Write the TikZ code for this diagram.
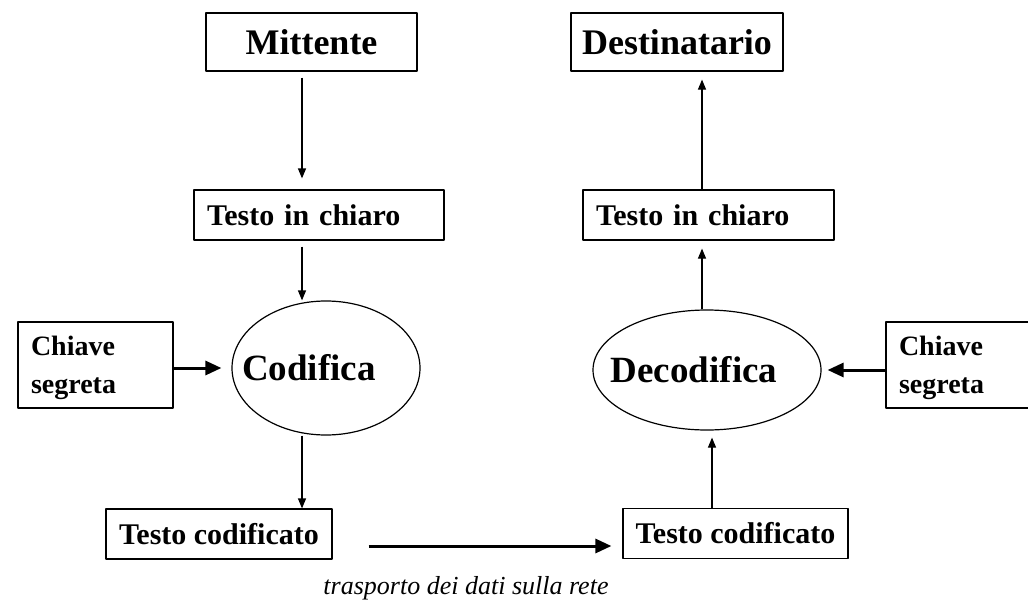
\documentclass[tikz,border=0pt]{standalone}
\usepackage{fontspec}
\setmainfont{Liberation Serif}
\usetikzlibrary{arrows.meta,shapes.geometric}
\begin{document}
\begin{tikzpicture}[x=1pt,y=-1pt,line join=round,>={Triangle[length=10pt,width=8pt]},
	box/.style={draw,line width=1.2pt,inner sep=0pt,minimum height=50pt,font=\bfseries\fontsize{30}{32}\selectfont},
	title/.style={box,minimum height=58pt,font=\bfseries\fontsize{36}{38}\selectfont},
	keybox/.style={box,align=left,inner xsep=13pt,text depth=38pt,minimum height=86pt,font=\bfseries\fontsize{28}{38}\selectfont},
	oval/.style={draw,ellipse,line width=1.2pt,inner sep=0pt},
	ovaltext/.style={font=\bfseries\fontsize{37}{39}\selectfont},
	flow/.style={->,line width=1.2pt},
	bigflow/.style={-{Triangle[length=16pt,width=14pt]},line width=3pt}]
	\useasboundingbox (0,0) rectangle (1028,602);
	\fill[white] (0,0) rectangle (1028,602);
	\clip (0,0) rectangle (1028,602);
	\coordinate (upL) at (302,0);\coordinate (upR) at (702,0);\coordinate (lowR) at (712,0);\coordinate (net) at (0,546);
	\node[title,minimum width=211pt] (mitt) at (311.5,42) {Mittente};
	\node[title,minimum width=212pt] (dest) at (677,42) {Destinatario};
	\node[box,align=left,inner xsep=13pt,text width=224pt] (tcL) at (319,215) {Testo in chiaro};
	\node[box,align=left,inner xsep=13pt,text width=225pt] (tcR) at (708.5,215) {Testo in chiaro};
	\node[oval,minimum width=188pt,minimum height=134pt,label={[ovaltext,xshift=-17pt]center:Codifica}] (cod) at (326,368) {};
	\node[oval,minimum width=228pt,minimum height=120pt,label={[ovaltext,xshift=-13pt]center:Decodifica}] (dec) at (707,370) {};
	\node[keybox,text width=129pt] (keyL) at (95.5,365) {Chiave\\segreta};
	\node[keybox,text width=128pt] (keyR) at (963,365) {Chiave\\segreta};
	\node[box,minimum width=226pt] (tcodL) at (219,534) {Testo codificato};
	\node[box,minimum width=225pt] (tcodR) at (735.5,533.5) {Testo codificato};
	\node[font=\itshape\fontsize{26}{28}\selectfont] (rete) at (466,588) {trasporto dei dati sulla rete};
	\draw[flow,shorten <=6pt,shorten >=11pt] (mitt.south -| upL) -- (tcL.north -| upL);
	\draw[flow,shorten <=6pt] (tcL.south -| upL) -- (cod.north -| upL);
	\draw[flow] (cod.south -| upL) -- (tcodL.north -| upL);
	\draw[bigflow,shorten >=10pt] (keyL.east |- cod) -- (cod.west);
	\draw[bigflow,shorten <=36pt,shorten >=11pt] (tcodL.east |- net) -- (tcodR.west |- net);
	\draw[flow,shorten >=7pt] (tcodR.north -| lowR) -- (dec.south -| lowR);
	\draw[bigflow,shorten >=6pt] (keyR.west |- dec) -- (dec.east);
	\draw[flow,shorten >=8pt] (dec.north -| upR) -- (tcR.south -| upR);
	\draw[flow,shorten >=8pt] (tcR.north -| upR) -- (dest.south -| upR);
\end{tikzpicture}
\end{document}
